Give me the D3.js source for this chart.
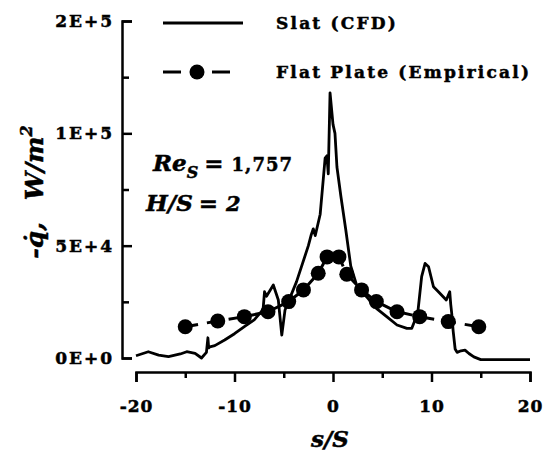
<!DOCTYPE html>
<html>
<head>
<meta charset="utf-8">
<script src="https://cdn.jsdelivr.net/npm/d3@7"></script>
<style>
body { margin: 0; background: white; }
.axis path, .axis line { stroke: #000; stroke-width: 2.5; }
.axis text { font-family: "DejaVu Serif", serif; font-weight: bold; font-size: 17px; fill: #000; stroke: #000; stroke-width: 0.5px; }
</style>
</head>
<body>
<div id="chart"></div>
<script>
// s/S positions and heat flux for the slat CFD curve
const cfdS = [-20, -18.75, -17.7, -16.7, -15.5, -14.85, -14.0, -13.35, -12.85, -12.7, -12.62, -12.5, -12.0, -11.0,
    -10.0, -9.0, -8.0, -7.1, -6.95, -6.75, -6.06, -5.55, -5.2, -4.87, -3.7, -2.5, -2.2, -2.0, -1.8, -1.3,
    -1.0, -0.8, -0.62, -0.48, -0.3, 0.0, 0.2, 0.4, 0.8, 1.3, 1.8, 2.5, 3.4, 4.4, 5.45, 6.5, 7.5, 8.0,
    8.6, 9.0, 9.35, 9.7, 10.2, 10.7, 11.5, 11.85, 11.95, 12.05, 12.2, 12.4, 12.6, 13.0, 13.4, 13.8, 14.3, 15.0, 20.0];
const cfdQ = [1000, 2800, 1300, 600, 1800, 2800, 2100, 0, 2500, 9000, 4500, 5000, 5500, 8000,
    10800, 14000, 17000, 21500, 29500, 27500, 32500, 25800, 10200, 21400, 34000, 50000, 55000, 57500, 54500, 64000,
    79000, 89000, 90000, 82000, 118000, 104000, 100000, 85000, 72000, 57000, 41000, 31000, 27300, 22100, 18400, 14700, 13200, 13200,
    19900, 36200, 42100, 40600, 31700, 29500, 25800, 29500, 24000, 20000, 12000, 4000, 2500, 3200, 3500, 2000, 500, -700, -700];

// empirical flat plate correlation points
const plateS = [-15, -11.7, -9, -6.6, -4.5, -3, -1.5, -0.6, 0.6, 1.4, 2.9, 4.4, 6.5, 8.8, 11.7, 14.8];
const plateQ = [13900, 16500, 18400, 20600, 25100, 30300, 37700, 45000, 45000, 37300, 30300, 25100, 20600, 18400, 16200, 13900];

const xTicks = [-20, -10, 0, 10, 20];
const xMinor = [-15, -5, 5, 15];
const yTicks = [0, 50000, 100000, 150000];
const yMinor = [25000, 75000, 125000];
const legendLabels = ["Slat (CFD)", "Flat Plate (Empirical)"];

const width = 550, height = 455;
const font = "'DejaVu Serif', serif";

const svg = d3.select("#chart").append("svg")
    .attr("width", width)
    .attr("height", height)
    .style("background", "white");

const x = d3.scaleLinear().domain([-20, 20]).range([136, 530]);
const y = d3.scaleLinear().domain([0, 150000]).range([358, 21]);

// y axis, ticks pointing inward, labels on the left
const fmtY = d => d3.format(".0e")(d).toUpperCase();
svg.append("g").attr("class", "axis").attr("transform", "translate(122,0)")
    .call(d3.axisLeft(y).tickValues(yTicks).tickSize(-10).tickPadding(10).tickFormat(fmtY))
    .selectAll("text").attr("letter-spacing", "2px").attr("dx", 2);
svg.append("g").attr("class", "axis").attr("transform", "translate(122,0)")
    .call(d3.axisLeft(y).tickValues(yMinor).tickSize(-7).tickFormat(""))
    .select(".domain").remove();

// x axis, detached below the plot
svg.append("g").attr("class", "axis").attr("transform", "translate(0,372)")
    .call(d3.axisBottom(x).tickValues(xTicks).tickSize(10).tickPadding(18).tickFormat(d => String(d)))
    .selectAll("text").attr("letter-spacing", "1px");
svg.append("g").attr("class", "axis").attr("transform", "translate(0,372)")
    .call(d3.axisBottom(x).tickValues(xMinor).tickSize(6).tickFormat(""))
    .select(".domain").remove();

// slat CFD curve
const idxCfd = d3.range(cfdS.length);
svg.append("path")
    .datum(idxCfd)
    .attr("fill", "none")
    .attr("stroke", "#000")
    .attr("stroke-width", 2.8)
    .attr("stroke-linejoin", "round")
    .attr("d", d3.line().x(i => x(cfdS[i])).y(i => y(cfdQ[i])));

// flat plate dashed line with dots
const idxPlate = d3.range(plateS.length);
svg.append("path")
    .datum(idxPlate)
    .attr("fill", "none")
    .attr("stroke", "#000")
    .attr("stroke-width", 3)
    .attr("stroke-dasharray", "13,9")
    .attr("d", d3.line().x(i => x(plateS[i])).y(i => y(plateQ[i])));
svg.append("g").selectAll("circle")
    .data(idxPlate)
    .join("circle")
    .attr("cx", i => x(plateS[i]))
    .attr("cy", i => y(plateQ[i]))
    .attr("r", 7.5)
    .attr("fill", "#000");

// legend
const lg = svg.append("g");
lg.append("line").attr("x1", 163).attr("x2", 243).attr("y1", 23).attr("y2", 23)
    .attr("stroke", "#000").attr("stroke-width", 3);
lg.append("line").attr("x1", 163).attr("x2", 181).attr("y1", 72).attr("y2", 72)
    .attr("stroke", "#000").attr("stroke-width", 3);
lg.append("line").attr("x1", 212).attr("x2", 230).attr("y1", 72).attr("y2", 72)
    .attr("stroke", "#000").attr("stroke-width", 3);
lg.append("circle").attr("cx", 197).attr("cy", 72).attr("r", 7.5).attr("fill", "#000");
lg.selectAll("text")
    .data(legendLabels)
    .join("text")
    .attr("x", 276)
    .attr("y", (d, i) => i === 0 ? 29 : 78)
    .attr("font-family", font)
    .attr("font-weight", "bold")
    .attr("font-size", 17)
    .attr("letter-spacing", "2.2px")
    .attr("stroke", "#000")
    .attr("stroke-width", 0.5)
    .text(d => d);

// annotations
const ann = svg.append("g").attr("font-family", font).attr("font-weight", "bold")
    .attr("stroke", "#000").attr("stroke-width", 0.5);
const t1 = ann.append("text").attr("x", 153).attr("y", 171);
t1.append("tspan").attr("font-style", "italic").attr("font-size", 23).text("Re");
t1.append("tspan").attr("font-style", "italic").attr("font-size", 16).attr("dy", 7).text("S");
t1.append("tspan").attr("font-size", 23).attr("dy", -7).attr("dx", 6).text("= ");
t1.append("tspan").attr("font-size", 18).attr("letter-spacing", "1px").text("1,757");
const t2 = ann.append("text").attr("x", 146).attr("y", 211);
t2.append("tspan").attr("font-style", "italic").attr("font-size", 23).text("H/S");
t2.append("tspan").attr("font-size", 23).attr("dx", 6).text("= ");
t2.append("tspan").attr("font-style", "italic").attr("font-size", 21).text("2");

// axis titles
svg.append("text")
    .attr("x", 330).attr("y", 447)
    .attr("text-anchor", "middle")
    .attr("font-family", font).attr("font-weight", "bold").attr("font-style", "italic")
    .attr("font-size", 23)
    .attr("stroke", "#000").attr("stroke-width", 0.5)
    .text("s/S");

const yt = svg.append("text")
    .attr("transform", "translate(43,192) rotate(-90)")
    .attr("text-anchor", "middle")
    .attr("font-family", font).attr("font-weight", "bold").attr("font-style", "italic")
    .attr("font-size", 25)
    .attr("stroke", "#000").attr("stroke-width", 0.5);
yt.append("tspan").text("-q\u0307,");
yt.append("tspan").attr("dx", 22).text("W/m");
yt.append("tspan").attr("font-size", 16).attr("dy", -11).text("2");
</script>
</body>
</html>
